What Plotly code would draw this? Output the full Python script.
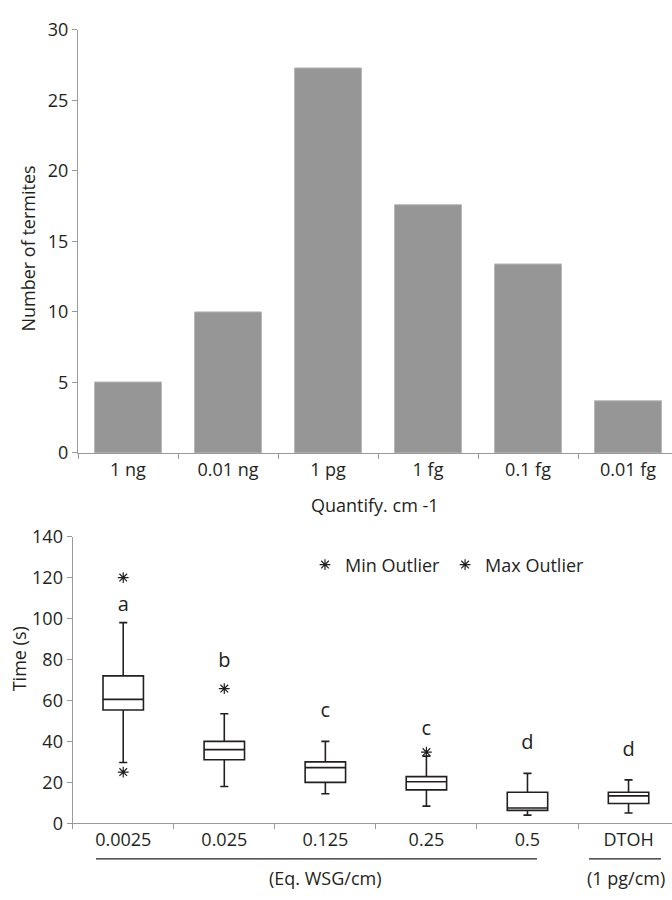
import plotly.graph_objects as go

# ---- Top chart data ----
quantities = ["1 ng", "0.01 ng", "1 pg", "1 fg", "0.1 fg", "0.01 fg"]
termites = [5.03, 10.0, 27.3, 17.6, 13.4, 3.7]

# ---- Bottom chart data ----
doses = ["0.0025", "0.025", "0.125", "0.25", "0.5", "DTOH"]
lower_whisker = [29.7, 18.0, 14.4, 8.4, 4.0, 5.0]
q1_vals = [55.3, 31.0, 20.0, 16.3, 6.3, 9.7]
median_vals = [60.5, 36.0, 27.2, 20.3, 7.5, 13.4]
q3_vals = [72.0, 40.0, 30.0, 22.8, 15.2, 15.2]
upper_whisker = [98.0, 53.5, 40.0, 32.8, 24.4, 21.2]

min_outlier_x = ["0.0025"]
min_outlier_y = [25.0]
max_outlier_x = ["0.0025", "0.025", "0.25"]
max_outlier_y = [120.0, 65.8, 34.8]

letter_labels = ["a", "b", "c", "c", "d", "d"]
letter_y = [106.0, 79.0, 54.5, 45.5, 38.5, 35.5]

FONT = "Open Sans"
TXT = "#231f20"
FS = 18
W, H = 672, 900


def px(x):
    return x / W


def py(y):
    return 1 - y / H


fig = go.Figure()

fig.add_trace(go.Bar(
    x=quantities, y=termites, width=0.67,
    marker=dict(color="#969696", line=dict(color="#b8b8b8", width=1)),
    xaxis="x", yaxis="y", showlegend=False,
))

fig.add_trace(go.Box(
    x=doses, q1=q1_vals, median=median_vals, q3=q3_vals,
    lowerfence=lower_whisker, upperfence=upper_whisker,
    width=0.4, whiskerwidth=0.2, boxpoints=False,
    fillcolor="white", line=dict(color="#231f20", width=1.6),
    xaxis="x2", yaxis="y2", showlegend=False,
))

marker_style = dict(symbol="asterisk-open", size=9, color=TXT, line=dict(color=TXT, width=1.2))
fig.add_trace(go.Scatter(
    x=min_outlier_x, y=min_outlier_y, mode="markers", name="Min Outlier",
    marker=marker_style, xaxis="x2", yaxis="y2",
))
fig.add_trace(go.Scatter(
    x=max_outlier_x, y=max_outlier_y, mode="markers", name="Max Outlier",
    marker=marker_style, xaxis="x2", yaxis="y2",
))
fig.add_trace(go.Scatter(
    x=doses, y=letter_y, mode="text", text=letter_labels,
    textposition="middle center", textfont=dict(family=FONT, size=20, color=TXT),
    xaxis="x2", yaxis="y2", showlegend=False,
))

axis_common = dict(
    showgrid=False, zeroline=False, showline=True, linecolor="#9a9a9a", linewidth=1.3,
    ticks="outside", ticklen=5, tickcolor="#9a9a9a", tickwidth=1.2,
    tickfont=dict(family=FONT, size=FS, color=TXT),
)

fig.update_layout(
    width=W, height=H,
    margin=dict(l=0, r=0, t=0, b=0),
    paper_bgcolor="white", plot_bgcolor="white",
    xaxis=dict(axis_common, domain=[px(78), 1.0], type="category",
               range=[-0.5, 5.44], tickson="boundaries", anchor="y"),
    yaxis=dict(axis_common, domain=[py(452), py(17.3)], range=[0, 30],
               tickvals=[0, 5, 10, 15, 20, 25, 30], anchor="x"),
    xaxis2=dict(axis_common, domain=[px(72.7), 1.0], type="category",
                range=[-0.5, 5.43], tickson="boundaries", anchor="y2"),
    yaxis2=dict(axis_common, domain=[py(832.5), py(538)], range=[0, 140],
                tickvals=[0, 20, 40, 60, 80, 100, 120, 140], anchor="x2"),
    legend=dict(orientation="h", x=px(305), y=py(567), xanchor="left", yanchor="middle",
                font=dict(family=FONT, size=FS, color=TXT), bgcolor="rgba(0,0,0,0)",
                itemwidth=30, tracegroupgap=0),
    font=dict(family=FONT, color=TXT),
)

annotations = [
    dict(text="Number of termites", x=px(28), y=py(242), textangle=-90),
    dict(text="Quantify. cm -1", x=px(375), y=py(505)),
    dict(text="Time (s)", x=px(19), y=py(664), textangle=-90),
    dict(text="(Eq. WSG/cm)", x=px(325), y=py(889)),
    dict(text="(1 pg/cm)", x=px(626), y=py(889)),
]
fig.update_layout(annotations=[
    dict(a, xref="paper", yref="paper", showarrow=False, xanchor="center", yanchor="middle",
         font=dict(family=FONT, size=FS, color=TXT)) for a in annotations
])

fig.update_layout(shapes=[
    dict(type="line", xref="paper", yref="paper", x0=px(96), x1=px(537),
         y0=py(869), y1=py(869), line=dict(color="#231f20", width=1.3)),
    dict(type="line", xref="paper", yref="paper", x0=px(589), x1=px(661),
         y0=py(869), y1=py(869), line=dict(color="#231f20", width=1.3)),
])

fig.write_html(
    "out.html",
    config={"displayModeBar": False},
    post_script="document.body.style.margin='0';document.documentElement.style.overflow='hidden';",
)
